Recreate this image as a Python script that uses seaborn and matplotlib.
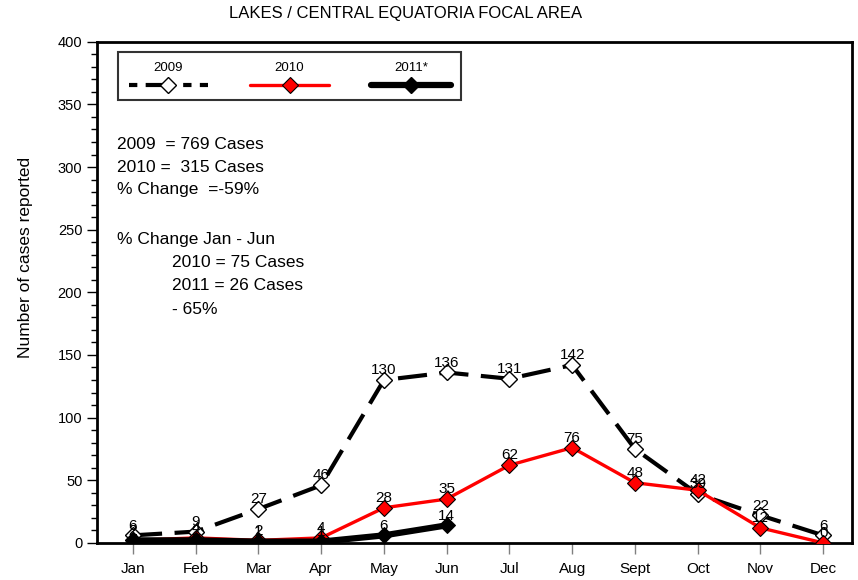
import numpy as np
import pandas as pd
import matplotlib
matplotlib.use('Agg')
import matplotlib.pyplot as plt
import seaborn as sns
from matplotlib.lines import Line2D
from matplotlib.offsetbox import VPacker

months = ['Jan', 'Feb', 'Mar', 'Apr', 'May', 'Jun', 'Jul', 'Aug', 'Sept', 'Oct', 'Nov', 'Dec']
cases_2009 = [6, 9, 27, 46, 130, 136, 131, 142, 75, 39, 22, 6]
cases_2010 = [2, 4, 2, 4, 28, 35, 62, 76, 48, 42, 12, 0]
cases_2011 = [2, 2, 1, 1, 6, 14]
series_names = ['2009', '2010', '2011*']

sns.set_theme(style='ticks')
plt.rcParams['font.family'] = ['Liberation Sans', 'DejaVu Sans']
plt.rcParams['text.color'] = 'black'
plt.rcParams['axes.labelcolor'] = 'black'
plt.rcParams['xtick.color'] = 'black'
plt.rcParams['ytick.color'] = 'black'

fig = plt.figure(figsize=(8.58, 5.80), dpi=100)
ax = fig.add_axes([0.113, 0.064, 0.880, 0.864])

pos = np.arange(len(months))

# 2009 - dashed black, open diamonds
sns.lineplot(x=pos, y=cases_2009, ax=ax, color='black', lw=3, linestyle=(0, (7, 3)),
             marker='D', markersize=8, markerfacecolor='white', markeredgecolor='black',
             markeredgewidth=1, zorder=3)
# 2010 - red
sns.lineplot(x=pos, y=cases_2010, ax=ax, color='red', lw=2.4,
             marker='D', markersize=8, markerfacecolor='red', markeredgecolor='black',
             markeredgewidth=0.8, zorder=4)
# 2011 - thick black, first half of year only
sns.lineplot(x=pos[:len(cases_2011)], y=cases_2011, ax=ax, color='black', lw=4.5,
             marker='D', markersize=8, markerfacecolor='black', markeredgecolor='black',
             zorder=5)

for vals in [cases_2009, cases_2010, cases_2011]:
    for i, v in enumerate(vals):
        ax.annotate(str(v), (pos[i], v), xytext=(0, 2), textcoords='offset points',
                    ha='center', va='bottom', fontsize=11, color='black', zorder=6)

ax.set_xlim(-0.574, 11.46)
ax.set_ylim(0, 400)
ax.set_xticks(pos)
ax.set_xticklabels(months, fontsize=11)
ax.set_yticks(np.arange(0, 401, 50))
ax.set_yticks(np.arange(0, 401, 10), minor=True)
ax.tick_params(axis='y', which='major', direction='out', length=7, width=1, labelsize=10.5)
ax.tick_params(axis='y', which='minor', direction='out', length=4, width=1)
ax.tick_params(axis='x', which='major', direction='out', length=8, width=1, labelsize=11,
               color='gray', pad=6)
for sp in ax.spines.values():
    sp.set_visible(True)
    sp.set_linewidth(2)
    sp.set_color('black')

ax.set_xlabel('')
ax.set_ylabel('Number of cases reported', fontsize=12.5)
ax.yaxis.set_label_coords(-0.085, 0.57)

fig.text(0.473, 0.976, 'LAKES / CENTRAL EQUATORIA FOCAL AREA', ha='center', va='center',
         fontsize=12)

# summary text block
txt = dict(transform=ax.transAxes, fontsize=12.5, va='center', ha='left')
ax.text(0.026, 0.795, '2009  = 769 Cases', **txt)
ax.text(0.026, 0.750, '2010 =  315 Cases', **txt)
ax.text(0.026, 0.705, '% Change  =-59%', **txt)
ax.text(0.026, 0.606, '% Change Jan - Jun', **txt)
ax.text(0.099, 0.560, '2010 = 75 Cases', **txt)
ax.text(0.099, 0.514, '2011 = 26 Cases', **txt)
ax.text(0.099, 0.466, '- 65%', **txt)

# legend with labels above the handles
handles = [
    Line2D([], [], color='black', lw=3, linestyle=(0, (2, 2, 7, 2)), marker='D', markersize=8,
           markerfacecolor='white', markeredgecolor='black', markeredgewidth=1),
    Line2D([], [], color='red', lw=2.4, marker='D', markersize=8,
           markerfacecolor='red', markeredgecolor='black', markeredgewidth=0.8),
    Line2D([], [], color='black', lw=4.5, marker='D', markersize=8,
           markerfacecolor='black', markeredgecolor='black'),
]
leg = ax.legend(handles, series_names, loc='upper left', bbox_to_anchor=(0.028, 0.98),
                borderaxespad=0, ncol=3, markerfirst=False, fontsize=9.5, handlelength=6.0,
                columnspacing=3.2, frameon=True, fancybox=False, borderpad=0.8,
                handletextpad=0.1)
leg.get_frame().set_edgecolor('black')
leg.get_frame().set_linewidth(1.5)
for col in leg._legend_handle_box.get_children():
    for row in col.get_children():
        row.__class__ = VPacker
        row.align = 'center'
        row.sep = 4

plt.savefig('out.png', dpi=100)
